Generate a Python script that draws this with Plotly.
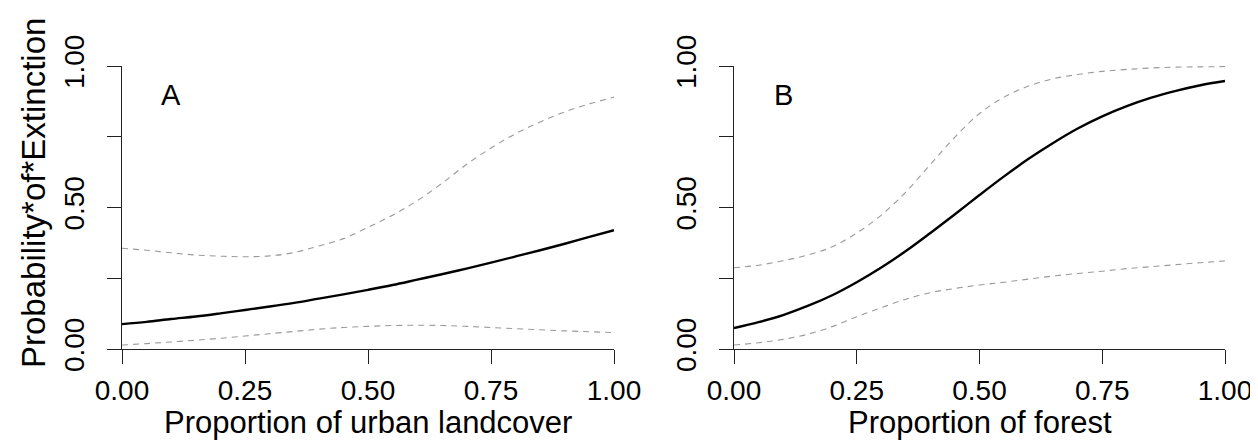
import plotly.graph_objects as go

# ---- data ----
x_grid = [0.00, 0.05, 0.10, 0.15, 0.20, 0.25, 0.30, 0.35, 0.40, 0.45, 0.50,
          0.55, 0.60, 0.65, 0.70, 0.75, 0.80, 0.85, 0.90, 0.95, 1.00]

# Panel A: proportion of urban landcover
urban_fit = [0.088, 0.096, 0.106, 0.115, 0.126, 0.138, 0.150, 0.163, 0.178, 0.193, 0.209,
             0.226, 0.245, 0.264, 0.284, 0.305, 0.327, 0.349, 0.372, 0.396, 0.420]
urban_upper = [0.356, 0.349, 0.340, 0.332, 0.328, 0.326, 0.329, 0.341, 0.364, 0.390, 0.430,
               0.473, 0.524, 0.585, 0.652, 0.710, 0.761, 0.802, 0.838, 0.866, 0.890]
urban_lower = [0.014, 0.019, 0.025, 0.031, 0.038, 0.046, 0.054, 0.062, 0.070, 0.076, 0.080,
               0.083, 0.084, 0.083, 0.080, 0.076, 0.072, 0.068, 0.064, 0.061, 0.058]

# Panel B: proportion of forest
forest_fit = [0.074, 0.095, 0.120, 0.152, 0.190, 0.236, 0.288, 0.346, 0.410, 0.476, 0.544,
              0.610, 0.672, 0.728, 0.779, 0.822, 0.858, 0.888, 0.912, 0.932, 0.947]
forest_upper = [0.287, 0.296, 0.312, 0.332, 0.361, 0.410, 0.473, 0.555, 0.652, 0.749, 0.832,
                0.890, 0.929, 0.955, 0.970, 0.981, 0.988, 0.993, 0.996, 0.997, 0.998]
forest_lower = [0.014, 0.022, 0.034, 0.052, 0.079, 0.114, 0.146, 0.176, 0.199, 0.214, 0.226,
                0.236, 0.247, 0.258, 0.267, 0.275, 0.284, 0.291, 0.298, 0.305, 0.311]

x_tickvals = [0, 0.25, 0.5, 0.75, 1.0]
x_ticktext = ["0.00", "0.25", "0.50", "0.75", "1.00"]
y_tickvals = [0, 0.25, 0.5, 0.75, 1.0]
y_ticktext = ["0.00", "", "0.50", "", "1.00"]

panel_labels = ["A", "B"]
x_titles = ["Proportion of urban landcover", "Proportion of forest"]
y_title = "Probability*of*Extinction"

FONT = "Liberation Sans, Arial, sans-serif"
W, H = 1258, 440

fig = go.Figure()

panels = [
    ("x", "y", urban_fit, urban_upper, urban_lower),
    ("x2", "y2", forest_fit, forest_upper, forest_lower),
]
for xa, ya, fit, up, lo in panels:
    for band in (up, lo):
        fig.add_trace(go.Scatter(x=x_grid, y=band, xaxis=xa, yaxis=ya, mode="lines",
                                 line=dict(color="#9a9a9a", width=1.1, dash="6px,5px", shape="spline"),
                                 showlegend=False, hoverinfo="skip"))
    fig.add_trace(go.Scatter(x=x_grid, y=fit, xaxis=xa, yaxis=ya, mode="lines",
                             line=dict(color="black", width=2.4, shape="spline"),
                             showlegend=False, hoverinfo="skip"))

x_domains = [[114 / W, 606 / W], [726 / W, 1217 / W]]
y_domain = [(H - 341) / H, (H - 58) / H]

axis_common = dict(showgrid=False, zeroline=False, showline=True, linecolor="#222",
                   linewidth=1, ticks="outside", ticklen=14, tickwidth=1, tickcolor="#222",
                   tickfont=dict(family=FONT, size=28, color="black"), range=[0, 1],
                   fixedrange=True, automargin=False)

for i in range(2):
    sfx = "" if i == 0 else str(i + 1)
    fig.update_layout(**{
        "xaxis" + sfx: dict(axis_common, domain=x_domains[i], anchor="y" + sfx,
                            tickvals=x_tickvals, ticktext=x_ticktext, ticklabelstandoff=2),
        "yaxis" + sfx: dict(axis_common, domain=y_domain, anchor="x" + sfx,
                            tickvals=y_tickvals, ticktext=y_ticktext, tickangle=-90,
                            ticklabelstandoff=12),
    })
    xr = "x" + sfx
    yr = "y" + sfx
    fig.add_annotation(x=0.10, y=0.897, xref=xr, yref=yr, text=panel_labels[i], showarrow=False,
                       font=dict(family=FONT, size=29, color="black"), xanchor="center", yanchor="middle")
    xc = (x_domains[i][0] + x_domains[i][1]) / 2
    fig.add_annotation(x=xc, y=(H - 414) / H, xref="paper", yref="paper", text=x_titles[i],
                       showarrow=False, font=dict(family=FONT, size=31, color="black"),
                       xanchor="center", yanchor="middle")

fig.add_annotation(x=25.5 / W, y=(H - 185.5) / H, xref="paper", yref="paper", text=y_title,
                   textangle=-90, showarrow=False, font=dict(family=FONT, size=33, color="black"),
                   xanchor="center", yanchor="middle")

fig.update_layout(width=W, height=H, margin=dict(l=0, r=0, t=0, b=0, autoexpand=False),
                  paper_bgcolor="white", plot_bgcolor="white")

fig.write_html("out.html")
